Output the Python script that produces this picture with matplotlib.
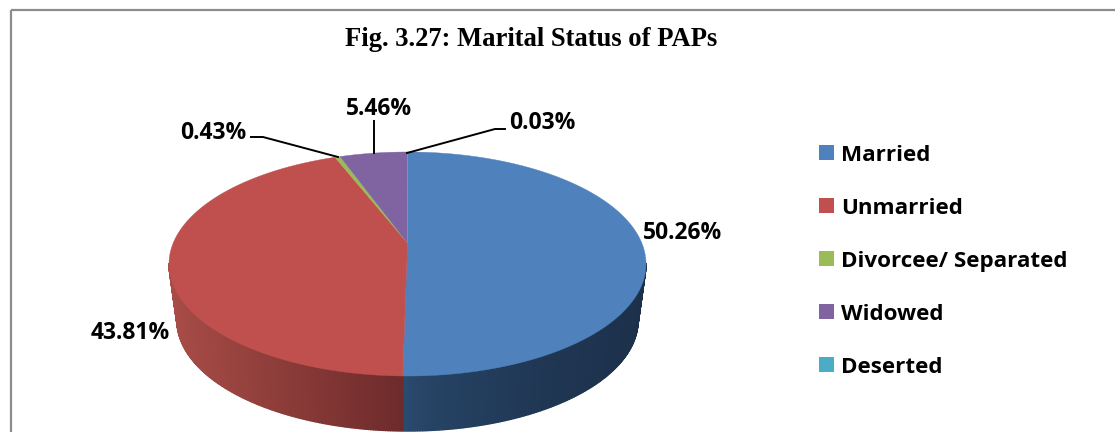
import numpy as np
import matplotlib
matplotlib.use('Agg')
import matplotlib.pyplot as plt
from matplotlib.patches import Patch

# Values
categories = ['Married', 'Unmarried', 'Divorcee/ Separated', 'Widowed', 'Deserted']
values = [50.26, 43.81, 0.43, 5.46, 0.03]
title = 'Fig. 3.27: Marital Status of PAPs'

colors = ['#4F81BD', '#BF504D', '#9BBB59', '#8064A2', '#4BACC6']
wall_left = ['#2A4A6E', '#A84C47', '#7A9040', '#5F4A7A', '#37808F']
wall_right = ['#1C304A', '#6C2A2A', '#5A6B30', '#463660', '#296070']

# label centres in pixels
label_pos = [(683, 233), (130, 333), (213, 133), (379, 109), (542, 123)]

W, H = 1115, 432
CX, CY, RX, RY = 407.5, 264, 238.5, 112     # top face
BX, BY, BRX, BRY = 407.5, 320.5, 230.5, 110.5  # bottom rim
K = -0.1875  # moves the pie hub above the ellipse centre (perspective)


def rim(t, r=1.0):
    # unit disc position (clockwise from 12 o'clock) -> squashed perspective disc
    x = r * np.sin(t)
    v = -r * np.cos(t)
    d = 1 + K * v
    return np.sqrt(1 - K ** 2) * x / d, (v + K) / d


fig = plt.figure(figsize=(W / 100, H / 100), dpi=100)
ax = fig.add_axes([0, 0, 1, 1])
ax.set_xlim(0, W)
ax.set_ylim(H, 0)
ax.axis('off')

# frame around the chart
ax.plot([11, 11], [H, 10], color='#8C8C8C', lw=1.6, solid_capstyle='butt')
ax.plot([11, W], [10, 10], color='#8C8C8C', lw=1.6, solid_capstyle='butt')

edges = np.radians(np.concatenate([[0], np.cumsum(values)]) / sum(values) * 360)

# side wall, drawn strip by strip for the gradient
for i in range(len(values)):
    ts = np.linspace(edges[i], edges[i + 1], max(int(np.degrees(edges[i + 1] - edges[i])), 2) * 2)
    for a, b in zip(ts[:-1], ts[1:]):
        xa, va = rim(a)
        xb, vb = rim(b)
        if va < 0 and vb < 0:
            continue
        frac = (0.5 * (xa + xb) + 1) / 2
        if i == 0:
            frac = np.clip(frac * 2 - 1, 0, 1) ** 0.6
        else:
            frac = np.clip(1 - frac * 2, 0, 1)
            frac = 1 - frac
        c0 = np.array(matplotlib.colors.to_rgb(wall_left[i]))
        c1 = np.array(matplotlib.colors.to_rgb(wall_right[i]))
        col = c0 + (c1 - c0) * frac
        ax.fill([CX + RX * xa, CX + RX * xb, BX + BRX * xb, BX + BRX * xa],
                [CY + RY * va, CY + RY * vb, BY + BRY * vb, BY + BRY * va],
                color=col, lw=1.0)

# top face
for i in range(len(values)):
    ts = np.linspace(edges[i], edges[i + 1], 200)
    x, v = rim(ts)
    hx, hv = rim(0.0, 0.0)
    ax.fill(np.r_[CX + RX * hx, CX + RX * x], np.r_[CY + RY * hv, CY + RY * v],
            color=colors[i], lw=0.3, zorder=3)

# leader lines
line_x = [[251, 263, 338], [374, 374], [407, 495, 505]]
line_y = [[137, 137, 157], [121, 153], [153, 129, 129]]
for lx, ly in zip(line_x, line_y):
    ax.plot(lx, ly, color='black', lw=1.4, zorder=4)

font = 'Open Sans'
for v, (px, py) in zip(values, label_pos):
    ax.text(px, py, f'{v:.2f}%', ha='center', va='center', family=font,
            fontweight='bold', fontsize=16.5, color='black', zorder=5)

ax.text(531, 39.5, title, ha='center', va='center', family='Liberation Serif',
        fontweight='bold', fontsize=19.2, color='black')

handles = [Patch(facecolor=c, edgecolor='none', label=n) for c, n in zip(colors, categories)]
ax.legend(handles=handles, loc='upper left', bbox_to_anchor=(812, 138), bbox_transform=ax.transData,
          frameon=False, prop={'family': font, 'weight': 'bold', 'size': 16.1},
          handlelength=0.67, handleheight=0.67, handletextpad=0.33, labelspacing=1.43,
          borderpad=0.3, borderaxespad=0)

fig.savefig('out.png', dpi=100)
